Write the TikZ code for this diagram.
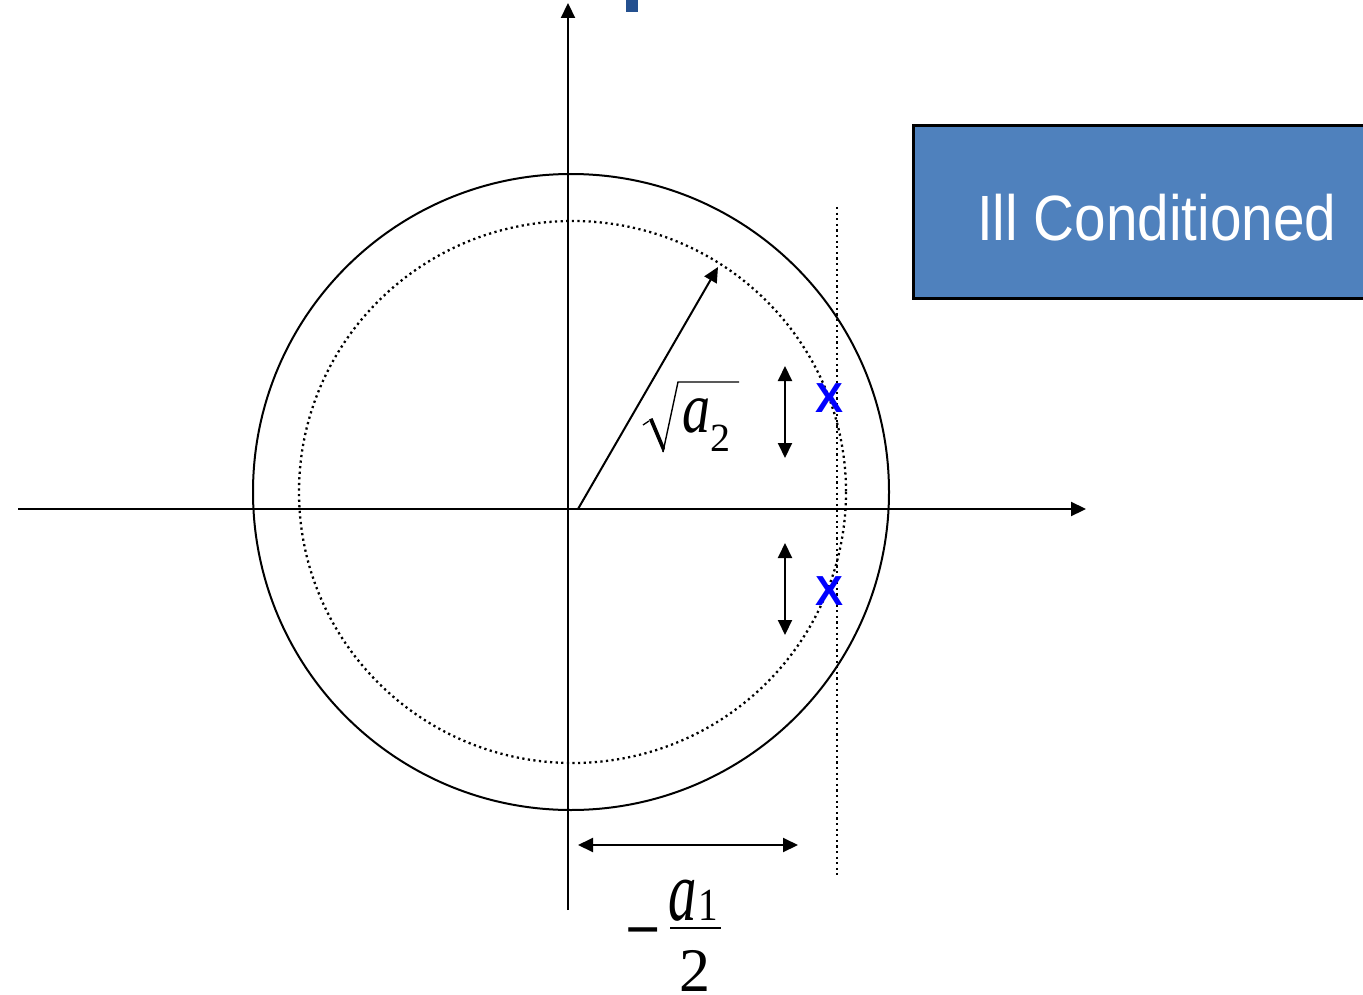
\documentclass[tikz,border=0pt]{standalone}
\usepackage{fontspec}
\setmainfont{Liberation Serif}
\newfontfamily\boxsans{Liberation Sans}
\usetikzlibrary{arrows.meta}
\definecolor{boxblue}{HTML}{4F81BD}
\definecolor{titleblue}{HTML}{24508F}
\definecolor{xblue}{HTML}{0000FF}
\begin{document}
\begin{tikzpicture}[x=1pt,y=-1pt,
  axis/.style={line width=2.2pt,-{Triangle[length=15pt,width=14pt]}},
  dimarrow/.style={line width=2pt,{Triangle[length=15pt,width=14pt]}-{Triangle[length=15pt,width=14pt]}},
  ring/.style={line width=2pt},
  dotline/.style={line width=2.3pt,dash pattern=on 2.2pt off 3.4pt},
  pole/.style={text=xblue,font=\boxsans\bfseries\fontsize{42}{42}\selectfont,inner sep=0pt},
  lbl/.style={inner sep=0pt,outer sep=0pt}]
\useasboundingbox (0,0) rectangle (1363,995);
% title fragment
\fill[titleblue] (626,0) rectangle (638,12);
% box
\node[lbl,draw=black,line width=3pt,fill=boxblue,minimum width=464pt,minimum height=172pt,anchor=north west] (box) at (913,126) {};
\node[lbl,text=white,font=\boxsans\fontsize{64}{64}\selectfont,anchor=base west] (boxtext) at (977,241) {\scalebox{0.886}[1]{Ill Conditioned}};
% circles
\node[lbl,draw,ring,circle,minimum size=636pt] (outer) at (571,492) {};
\draw[dotline] (572.5,492) ellipse [x radius=273.5, y radius=271];
\coordinate (inner) at (572.5,492);
% dotted vertical line
\coordinate (vtop) at (837,207);
\coordinate (vbot) at (837,875);
\draw[dotline] (vtop) -- (vbot);
% axes
\coordinate (yb) at (568,910);
\coordinate (yt) at (568,3);
\coordinate (xl) at (18,509);
\coordinate (xr) at (1086,509);
\draw[axis] (yb) -- (yt);
\draw[axis] (xl) -- (xr);
% radius arrow
\coordinate (r0) at (578,509);
\coordinate (r1) at (718,267);
\draw[axis,line width=2pt] (r0) -- (r1);
% sqrt label: radical sign
\coordinate (rad0) at (643,425);
\coordinate (rad1) at (649,421);
\coordinate (rad2) at (663,452);
\coordinate (rad3) at (678,382);
\coordinate (rad4) at (739,382);
\draw[line width=1.3pt,line join=miter] (rad0) -- (rad1);
\fill (649,419.5) -- (652.5,418) -- (665,448) -- (663,452.5) -- cycle;
\draw[line width=1.4pt,line join=miter] (rad2) -- (rad3) -- (rad4);
\node[lbl,font=\fontsize{72}{72}\selectfont\itshape,anchor=base] (sa) at (697,432) {\scalebox{0.78}[1]{a}};
\node[lbl,font=\fontsize{40}{40}\selectfont,anchor=base] (s2) at (720,451) {2};
% vertical double arrows
\coordinate (u0) at (785,366);
\coordinate (u1) at (785,458);
\coordinate (l0) at (785,543);
\coordinate (l1) at (785,635);
\draw[dimarrow] (u0) -- (u1);
\draw[dimarrow] (l0) -- (l1);
% poles
\node[pole] (p1) at (829,398) {X};
\node[pole] (p2) at (829,591) {X};
% horizontal dimension arrow
\coordinate (h0) at (578,845);
\coordinate (h1) at (798,845);
\draw[dimarrow] (h0) -- (h1);
% -a1/2 label
\node[lbl,font=\fontsize{62}{62}\selectfont\bfseries,anchor=base] (minus) at (643,950) {−};
\node[lbl,font=\fontsize{86}{86}\selectfont\itshape,anchor=base] (fa) at (683,920) {\scalebox{0.66}[1]{a}};
\node[lbl,font=\fontsize{46}{46}\selectfont,anchor=base] (f1) at (708,920) {\scalebox{0.85}[1]{1}};
\coordinate (bar0) at (670,928);
\coordinate (bar1) at (721,928);
\draw[line width=1.5pt] (bar0) -- (bar1);
\node[lbl,font=\fontsize{62}{62}\selectfont,anchor=base] (f2) at (695,991) {2};
\end{tikzpicture}
\end{document}
